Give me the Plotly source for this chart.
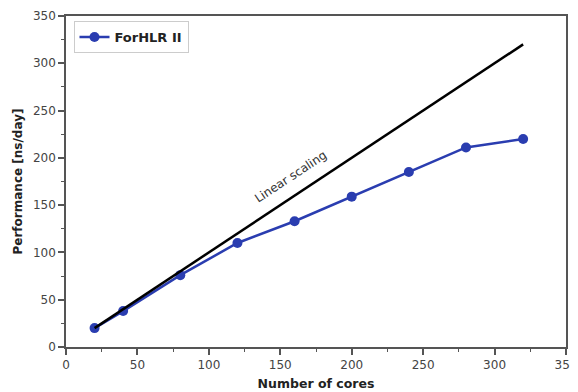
import plotly.graph_objects as go

cores = [20, 40, 80, 120, 160, 200, 240, 280, 320]
perf = [20, 38, 76, 110, 133, 159, 185, 211, 220]
linear_x = [20, 320]
linear_y = [20, 320]
x_ticks = [0, 50, 100, 150, 200, 250, 300, 350]
y_ticks = [0, 50, 100, 150, 200, 250, 300, 350]

blue = "#2a3db0"
font = "DejaVu Sans"

fig = go.Figure()
fig.add_trace(go.Scatter(
    x=cores, y=perf, mode="lines+markers", name="<b>ForHLR II</b>",
    line=dict(color=blue, width=2.5),
    marker=dict(color=blue, size=10),
))
fig.add_trace(go.Scatter(
    x=linear_x, y=linear_y, mode="lines", name="Linear scaling",
    line=dict(color="black", width=2.5), showlegend=False,
))
fig.add_annotation(
    x=157, y=180, text="Linear scaling", showarrow=False, textangle=-33.5,
    font=dict(family=font, size=12, color="#333"),
)

axis_common = dict(
    showgrid=False, zeroline=False, showline=True, linecolor="#555", linewidth=1.5,
    mirror=True, ticks="outside", ticklen=6, tickwidth=1.5, tickcolor="#555",
    tickfont=dict(family=font, size=12, color="#444"), automargin=False,
    minor=dict(ticks="outside", ticklen=3, tickwidth=1.2, tickcolor="#555"),
)
fig.update_xaxes(
    range=[0, 350], tickvals=x_ticks, minor_dtick=25,
    title=dict(text="<b>Number of cores</b>", font=dict(family=font, size=12.5, color="#222"), standoff=8),
    **axis_common,
)
fig.update_yaxes(
    range=[0, 350], tickvals=y_ticks, minor_dtick=25,
    title=dict(text="<b>Performance [ns/day]</b>", font=dict(family=font, size=12, color="#222"), standoff=8),
    **axis_common,
)
fig.update_layout(
    width=570, height=384,
    margin=dict(l=58, r=12, t=8, b=45),
    plot_bgcolor="white", paper_bgcolor="white",
    legend=dict(
        x=0.015, y=0.985, xanchor="left", yanchor="top",
        bordercolor="#ccc", borderwidth=1, bgcolor="white",
        font=dict(family=font, size=13, color="#222"),
    ),
)
fig.write_html("out.html")
